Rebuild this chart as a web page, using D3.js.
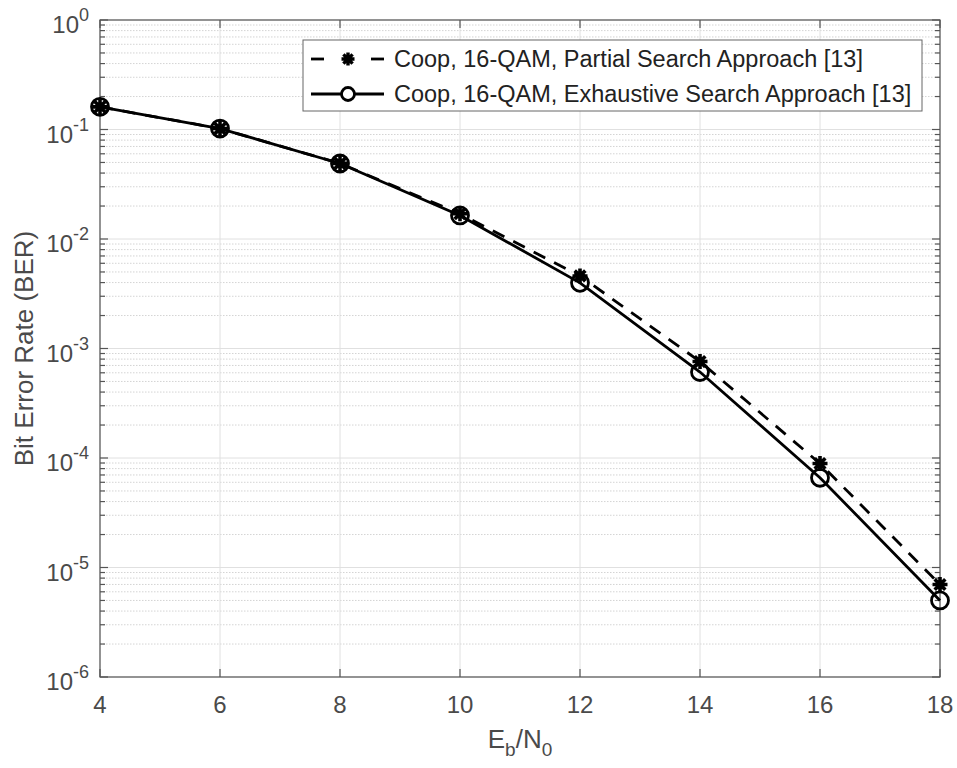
<!DOCTYPE html>
<html><head><meta charset="utf-8">
<script src="https://cdn.jsdelivr.net/npm/d3@7"></script>
<style>body{margin:0;background:#fff;}svg{display:block;}</style>
</head><body>
<script>
const ebn0 = [4, 6, 8, 10, 12, 14, 16, 18];
const berPartial = [0.161, 0.102, 0.049, 0.0170, 0.0046, 7.6e-4, 8.9e-5, 7.0e-6];
const berExhaustive = [0.161, 0.102, 0.0489, 0.0164, 0.00398, 6.1e-4, 6.6e-5, 5.0e-6];
const xTicks = [4, 6, 8, 10, 12, 14, 16, 18];
const yDecades = [0, -1, -2, -3, -4, -5, -6];
const legendLabels = ["Coop, 16-QAM, Partial Search Approach [13]", "Coop, 16-QAM, Exhaustive Search Approach [13]"];

const W = 957, H = 768;
const m = {l: 100, r: 17, t: 20, b: 91};
const svg = d3.select("body").append("svg").attr("width", W).attr("height", H);
const x = d3.scaleLinear().domain([4, 18]).range([m.l, W - m.r]);
const y = d3.scaleLog().domain([1e-6, 1]).range([H - m.b, m.t]);
const font = "'Liberation Sans', Arial, Helvetica, sans-serif";
const txt = "#4a4a4a";

const g = svg.append("g");
const minors = [];
for (let e = -6; e < 0; e++) for (let k = 2; k <= 9; k++) minors.push(k * Math.pow(10, e));
g.selectAll(".ymin").data(minors).enter().append("line")
  .attr("x1", m.l).attr("x2", W - m.r).attr("y1", d => y(d)).attr("y2", d => y(d))
  .attr("stroke", "#d4d4d4").attr("stroke-width", 1).attr("stroke-dasharray", "1.5,1.5");
g.selectAll(".ymaj").data(yDecades).enter().append("line")
  .attr("x1", m.l).attr("x2", W - m.r).attr("y1", d => y(Math.pow(10, d))).attr("y2", d => y(Math.pow(10, d)))
  .attr("stroke", "#e0e0e0").attr("stroke-width", 1);
g.selectAll(".xmaj").data(xTicks).enter().append("line")
  .attr("y1", m.t).attr("y2", H - m.b).attr("x1", d => x(d)).attr("x2", d => x(d))
  .attr("stroke", "#e0e0e0").attr("stroke-width", 1);

const axCol = "#555";
svg.append("rect").attr("x", m.l).attr("y", m.t).attr("width", W - m.l - m.r).attr("height", H - m.t - m.b)
  .attr("fill", "none").attr("stroke", axCol).attr("stroke-width", 1.2);
const tk = svg.append("g").attr("stroke", axCol).attr("stroke-width", 1.2);
xTicks.forEach(d => {
  tk.append("line").attr("x1", x(d)).attr("x2", x(d)).attr("y1", H - m.b).attr("y2", H - m.b - 8);
  tk.append("line").attr("x1", x(d)).attr("x2", x(d)).attr("y1", m.t).attr("y2", m.t + 8);
});
yDecades.forEach(d => {
  const yy = y(Math.pow(10, d));
  tk.append("line").attr("x1", m.l).attr("x2", m.l + 8).attr("y1", yy).attr("y2", yy);
  tk.append("line").attr("x1", W - m.r).attr("x2", W - m.r - 8).attr("y1", yy).attr("y2", yy);
});
minors.forEach(d => {
  const yy = y(d);
  tk.append("line").attr("x1", m.l).attr("x2", m.l + 5).attr("y1", yy).attr("y2", yy);
  tk.append("line").attr("x1", W - m.r).attr("x2", W - m.r - 5).attr("y1", yy).attr("y2", yy);
});

svg.selectAll(".xl").data(xTicks).enter().append("text")
  .attr("x", d => x(d)).attr("y", H - m.b + 36).attr("text-anchor", "middle")
  .attr("font-family", font).attr("font-size", 24).attr("fill", txt).text(d => d);
yDecades.forEach(d => {
  const t = svg.append("text").attr("x", m.l - 11).attr("y", y(Math.pow(10, d)) + 13)
    .attr("text-anchor", "end").attr("font-family", font).attr("font-size", 24).attr("fill", txt);
  t.append("tspan").text("10");
  t.append("tspan").attr("dy", -12).attr("font-size", 18).text(d);
});

svg.append("text").attr("transform", `translate(33,${(m.t + H - m.b) / 2}) rotate(-90)`)
  .attr("text-anchor", "middle").attr("font-family", font).attr("font-size", 26).attr("fill", txt)
  .text("Bit Error Rate (BER)");
const xt = svg.append("text").attr("x", (m.l + W - m.r) / 2).attr("y", 748).attr("text-anchor", "middle")
  .attr("font-family", font).attr("font-size", 26).attr("fill", txt);
xt.append("tspan").text("E");
xt.append("tspan").attr("dy", 8).attr("font-size", 19).text("b");
xt.append("tspan").attr("dy", -8).text("/N");
xt.append("tspan").attr("dy", 8).attr("font-size", 19).text("0");

const line = d3.line().x(d => x(d[0])).y(d => y(d[1]));
const dPartial = ebn0.map((v, i) => [v, berPartial[i]]);
const dExh = ebn0.map((v, i) => [v, berExhaustive[i]]);
const plot = svg.append("g");
plot.append("path").attr("d", line(dExh)).attr("fill", "none").attr("stroke", "#000").attr("stroke-width", 2.8);
plot.append("path").attr("d", line(dPartial)).attr("fill", "none").attr("stroke", "#000").attr("stroke-width", 2.8)
  .attr("stroke-dasharray", "13,10");

function star(sel, cx, cy, r, sw) {
  const p = d3.path();
  for (let a = 0; a < 4; a++) {
    const ang = a * Math.PI / 4;
    p.moveTo(cx - r * Math.cos(ang), cy - r * Math.sin(ang));
    p.lineTo(cx + r * Math.cos(ang), cy + r * Math.sin(ang));
  }
  sel.append("path").attr("d", p.toString()).attr("stroke", "#000").attr("stroke-width", sw).attr("fill", "none");
}
dPartial.forEach(d => star(plot, x(d[0]), y(d[1]), 7.5, 3.6));
plot.selectAll(".c").data(dExh).enter().append("circle")
  .attr("cx", d => x(d[0])).attr("cy", d => y(d[1])).attr("r", 8.5)
  .attr("fill", "none").attr("stroke", "#000").attr("stroke-width", 2.8);

const lg = svg.append("g");
lg.append("rect").attr("x", 303).attr("y", 40).attr("width", 619).attr("height", 71)
  .attr("fill", "#fff").attr("stroke", "#666").attr("stroke-width", 1);
const ly = [59, 94];
[[311, 324], [371, 384]].forEach(s => lg.append("line").attr("x1", s[0]).attr("x2", s[1]).attr("y1", ly[0]).attr("y2", ly[0])
  .attr("stroke", "#000").attr("stroke-width", 2.8));
star(lg, 348, ly[0], 6.5, 3.4);
lg.append("line").attr("x1", 311).attr("x2", 384).attr("y1", ly[1]).attr("y2", ly[1])
  .attr("stroke", "#000").attr("stroke-width", 2.8);
lg.append("circle").attr("cx", 348).attr("cy", ly[1]).attr("r", 6.5).attr("fill", "#fff")
  .attr("stroke", "#000").attr("stroke-width", 2.8);
legendLabels.forEach((t, i) => {
  lg.append("text").attr("x", 394).attr("y", ly[i] + 8).attr("font-family", font).attr("font-size", 23.5)
    .attr("fill", "#222").text(t);
});
</script>
</body></html>
